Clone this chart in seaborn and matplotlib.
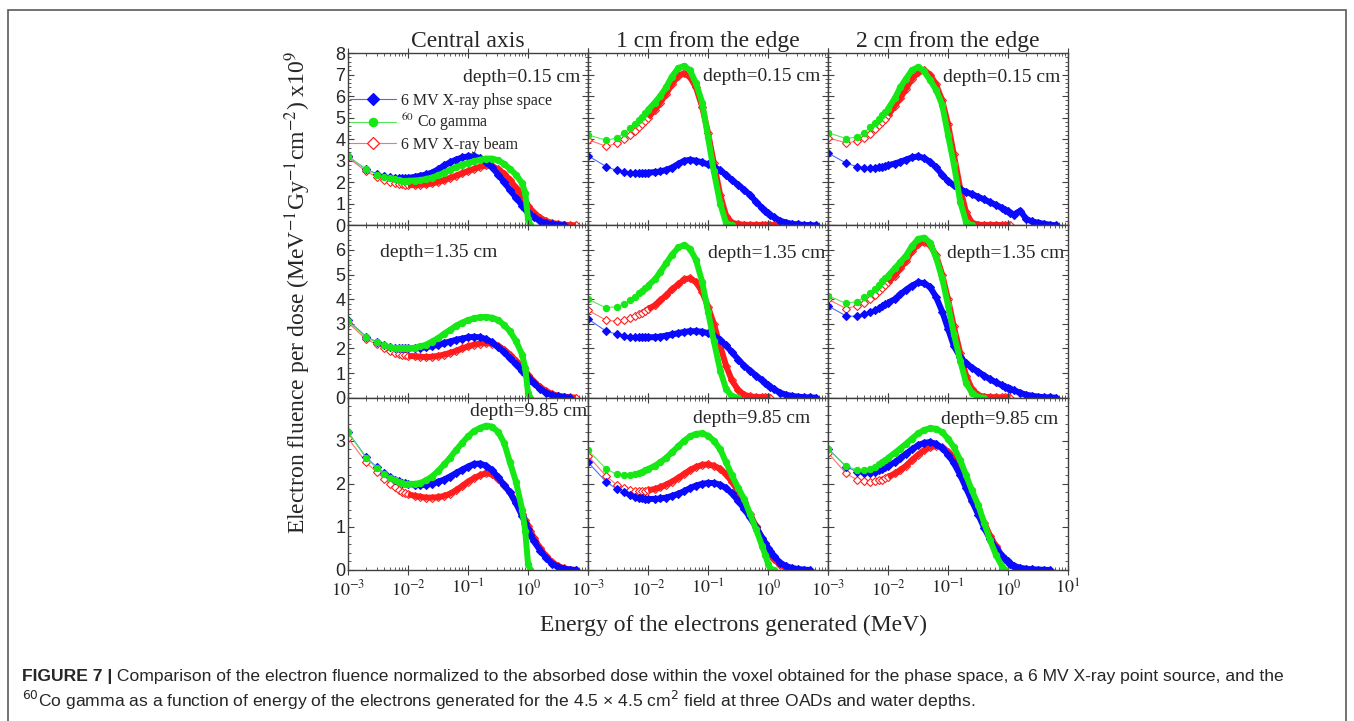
import pandas as pd
import matplotlib.pyplot as plt
import seaborn as sns
from matplotlib.lines import Line2D
from matplotlib.patches import Rectangle
from matplotlib.ticker import LogLocator, NullFormatter, MultipleLocator

# energy grid (MeV), shared by every curve
energy = [0.001, 0.002, 0.003, 0.004, 0.005, 0.006, 0.007, 0.008, 0.009, 0.01,
          0.013, 0.016, 0.02, 0.025, 0.032, 0.04, 0.05, 0.063, 0.08, 0.1,
          0.125, 0.16, 0.2, 0.25, 0.32, 0.4, 0.5, 0.63, 0.8, 0.9,
          1.0, 1.1, 1.25, 1.6, 2.0, 2.5, 3.2, 4.0, 5.0, 6.3]

# central axis, depth 0.15 cm
ca_d015_phsp = [3.20, 2.60, 2.40, 2.30, 2.25, 2.22, 2.20, 2.20, 2.20, 2.20,
                2.25, 2.30, 2.36, 2.45, 2.60, 2.78, 2.92, 3.05, 3.15, 3.20,
                3.20, 3.12, 2.95, 2.70, 2.35, 2.00, 1.65, 1.28, 0.92, 0.76,
                0.62, 0.50, 0.38, 0.20, 0.10, 0.05, 0.02, 0.00, None, None]
ca_d015_co60 = [3.20, 2.60, 2.35, 2.25, 2.18, 2.13, 2.10, 2.08, 2.07, 2.07,
                2.08, 2.10, 2.15, 2.22, 2.32, 2.45, 2.57, 2.70, 2.82, 2.90,
                2.97, 3.05, 3.10, 3.10, 3.02, 2.85, 2.62, 2.35, 1.95, 1.50,
                0.30, 0.00, None, None, None, None, None, None, None, None]
ca_d015_beam = [3.15, 2.50, 2.25, 2.10, 2.02, 1.97, 1.93, 1.90, 1.88, 1.87,
                1.87, 1.88, 1.90, 1.95, 2.02, 2.10, 2.20, 2.30, 2.42, 2.52,
                2.62, 2.72, 2.78, 2.75, 2.60, 2.40, 2.10, 1.75, 1.35, 1.10,
                0.90, 0.75, 0.58, 0.35, 0.20, 0.12, 0.06, 0.03, 0.01, 0.00]

# 1 cm from the edge, depth 0.15 cm
e1_d015_phsp = [3.23, 2.73, 2.55, 2.47, 2.43, 2.42, 2.42, 2.43, 2.44, 2.45,
                2.47, 2.50, 2.57, 2.68, 2.85, 3.00, 3.04, 3.00, 2.92, 2.83,
                2.72, 2.55, 2.35, 2.10, 1.88, 1.65, 1.42, 1.10, 0.80, 0.68,
                0.58, 0.48, 0.38, 0.21, 0.13, 0.07, 0.04, 0.02, 0.01, 0.00]
e1_d015_co60 = [4.20, 3.95, 4.05, 4.30, 4.50, 4.70, 4.90, 5.05, 5.20, 5.35,
                5.70, 6.00, 6.40, 6.90, 7.30, 7.40, 7.20, 6.60, 5.70, 4.10,
                2.50, 1.00, 0.10, 0.00, None, None, None, None, None, None,
                None, None, None, None, None, None, None, None, None, None]
e1_d015_beam = [3.98, 3.67, 3.80, 4.00, 4.20, 4.40, 4.55, 4.70, 4.85, 5.00,
                5.35, 5.70, 6.10, 6.55, 6.95, 7.05, 6.90, 6.40, 5.50, 4.30,
                2.90, 1.40, 0.45, 0.12, 0.05, 0.03, 0.02, 0.02, 0.02, 0.02,
                0.01, 0.01, 0.01, 0.00, None, None, None, None, None, None]

# 2 cm from the edge, depth 0.15 cm
e2_d015_phsp = [3.36, 2.89, 2.73, 2.68, 2.67, 2.68, 2.70, 2.73, 2.76, 2.78,
                2.87, 2.95, 3.05, 3.15, 3.20, 3.12, 2.95, 2.70, 2.35, 2.05,
                1.85, 1.68, 1.55, 1.45, 1.32, 1.20, 1.07, 0.95, 0.80, 0.72,
                0.65, 0.58, 0.50, 0.68, 0.30, 0.18, 0.12, 0.07, 0.03, 0.00]
e2_d015_co60 = [4.30, 4.03, 4.10, 4.30, 4.55, 4.75, 4.95, 5.10, 5.25, 5.40,
                5.90, 6.40, 6.80, 7.20, 7.35, 7.15, 6.75, 6.30, 5.60, 4.20,
                2.85, 1.10, 0.15, 0.00, None, None, None, None, None, None,
                None, None, None, None, None, None, None, None, None, None]
e2_d015_beam = [4.06, 3.83, 3.90, 4.05, 4.25, 4.45, 4.65, 4.80, 4.95, 5.10,
                5.55, 5.90, 6.35, 6.80, 7.10, 7.20, 7.00, 6.55, 5.80, 4.70,
                3.30, 1.70, 0.60, 0.12, 0.03, 0.02, 0.02, 0.02, 0.01, 0.01,
                0.01, 0.00, None, None, None, None, None, None, None, None]

# central axis, depth 1.35 cm
ca_d135_phsp = [3.15, 2.48, 2.27, 2.13, 2.05, 2.02, 2.00, 2.00, 2.00, 2.00,
                2.01, 2.02, 2.05, 2.10, 2.15, 2.22, 2.28, 2.35, 2.40, 2.45,
                2.47, 2.45, 2.38, 2.25, 2.05, 1.85, 1.60, 1.35, 1.08, 0.95,
                0.83, 0.72, 0.58, 0.35, 0.20, 0.10, 0.05, 0.02, 0.00, None]
ca_d135_co60 = [3.10, 2.45, 2.25, 2.12, 2.05, 2.02, 2.00, 2.00, 2.00, 2.00,
                2.03, 2.08, 2.15, 2.28, 2.42, 2.60, 2.75, 2.92, 3.05, 3.15,
                3.22, 3.27, 3.28, 3.25, 3.15, 2.95, 2.70, 2.30, 1.75, 1.20,
                0.20, 0.00, None, None, None, None, None, None, None, None]
ca_d135_beam = [3.05, 2.37, 2.17, 2.00, 1.90, 1.83, 1.78, 1.75, 1.72, 1.70,
                1.68, 1.66, 1.65, 1.66, 1.70, 1.75, 1.82, 1.90, 2.00, 2.08,
                2.15, 2.20, 2.22, 2.20, 2.10, 1.95, 1.75, 1.50, 1.20, 1.05,
                0.92, 0.80, 0.65, 0.42, 0.27, 0.15, 0.08, 0.04, 0.02, 0.00]

# 1 cm from the edge, depth 1.35 cm
e1_d135_phsp = [3.20, 2.70, 2.58, 2.52, 2.48, 2.46, 2.45, 2.45, 2.45, 2.45,
                2.46, 2.48, 2.52, 2.57, 2.62, 2.67, 2.70, 2.70, 2.68, 2.62,
                2.52, 2.35, 2.12, 1.85, 1.55, 1.30, 1.10, 0.90, 0.70, 0.60,
                0.52, 0.45, 0.35, 0.20, 0.12, 0.07, 0.04, 0.02, 0.01, 0.00]
e1_d135_co60 = [4.00, 3.65, 3.70, 3.80, 3.95, 4.10, 4.25, 4.35, 4.45, 4.55,
                4.80, 5.10, 5.45, 5.80, 6.10, 6.20, 6.05, 5.60, 4.70, 3.50,
                2.30, 1.10, 0.35, 0.05, 0.00, None, None, None, None, None,
                None, None, None, None, None, None, None, None, None, None]
e1_d135_beam = [3.55, 3.15, 3.10, 3.15, 3.22, 3.30, 3.38, 3.45, 3.52, 3.60,
                3.75, 3.95, 4.15, 4.40, 4.60, 4.80, 4.85, 4.70, 4.30, 3.70,
                3.00, 2.10, 1.30, 0.70, 0.30, 0.12, 0.05, 0.03, 0.02, 0.01,
                0.01, 0.00, None, None, None, None, None, None, None, None]

# 2 cm from the edge, depth 1.35 cm
e2_d135_phsp = [3.73, 3.32, 3.30, 3.38, 3.48, 3.57, 3.65, 3.72, 3.80, 3.86,
                4.00, 4.20, 4.38, 4.55, 4.68, 4.65, 4.50, 4.10, 3.50, 2.80,
                2.10, 1.65, 1.40, 1.22, 1.05, 0.90, 0.75, 0.62, 0.50, 0.44,
                0.40, 0.36, 0.30, 0.20, 0.12, 0.08, 0.04, 0.02, 0.01, 0.00]
e2_d135_co60 = [4.14, 3.83, 3.90, 4.07, 4.25, 4.42, 4.58, 4.72, 4.85, 4.95,
                5.25, 5.50, 5.77, 6.15, 6.45, 6.50, 6.30, 5.70, 4.85, 3.75,
                2.60, 1.50, 0.60, 0.20, 0.02, 0.00, None, None, None, None,
                None, None, None, None, None, None, None, None, None, None]
e2_d135_beam = [4.00, 3.62, 3.73, 3.85, 4.02, 4.18, 4.32, 4.45, 4.57, 4.68,
                4.95, 5.25, 5.55, 5.95, 6.25, 6.33, 6.20, 5.80, 5.00, 4.00,
                2.90, 1.80, 0.90, 0.35, 0.10, 0.04, 0.02, 0.02, 0.01, 0.01,
                0.01, 0.00, None, None, None, None, None, None, None, None]

# central axis, depth 9.85 cm
ca_d985_phsp = [3.20, 2.62, 2.39, 2.25, 2.16, 2.10, 2.06, 2.03, 2.01, 2.00,
                1.98, 1.97, 1.98, 2.00, 2.05, 2.10, 2.17, 2.25, 2.33, 2.40,
                2.46, 2.47, 2.42, 2.32, 2.15, 1.97, 1.80, 1.55, 1.25, 1.10,
                0.95, 0.82, 0.67, 0.45, 0.28, 0.15, 0.07, 0.03, 0.01, 0.00]
ca_d985_co60 = [3.20, 2.60, 2.37, 2.23, 2.14, 2.08, 2.04, 2.02, 2.00, 2.00,
                2.00, 2.02, 2.08, 2.17, 2.30, 2.45, 2.60, 2.78, 2.95, 3.10,
                3.22, 3.30, 3.35, 3.33, 3.20, 2.95, 2.50, 2.05, 1.40, 0.90,
                0.15, 0.00, None, None, None, None, None, None, None, None]
ca_d985_beam = [3.06, 2.50, 2.27, 2.12, 2.00, 1.92, 1.86, 1.82, 1.78, 1.76,
                1.72, 1.70, 1.68, 1.68, 1.69, 1.72, 1.77, 1.85, 1.95, 2.05,
                2.13, 2.20, 2.25, 2.22, 2.12, 1.97, 1.80, 1.58, 1.30, 1.16,
                1.03, 0.90, 0.75, 0.50, 0.32, 0.18, 0.09, 0.04, 0.01, 0.00]

# 1 cm from the edge, depth 9.85 cm
e1_d985_phsp = [2.50, 2.05, 1.88, 1.80, 1.74, 1.70, 1.68, 1.66, 1.65, 1.65,
                1.65, 1.66, 1.68, 1.72, 1.77, 1.83, 1.90, 1.96, 2.00, 2.02,
                2.02, 1.98, 1.90, 1.78, 1.60, 1.42, 1.22, 1.00, 0.75, 0.63,
                0.52, 0.43, 0.32, 0.17, 0.09, 0.05, 0.02, 0.01, 0.00, None]
e1_d985_co60 = [2.78, 2.35, 2.22, 2.20, 2.20, 2.22, 2.25, 2.28, 2.31, 2.34,
                2.42, 2.50, 2.60, 2.73, 2.87, 3.00, 3.10, 3.16, 3.17, 3.12,
                3.00, 2.80, 2.50, 2.20, 1.90, 1.65, 1.30, 0.95, 0.55, 0.35,
                0.15, 0.03, 0.00, None, None, None, None, None, None, None]
e1_d985_beam = [2.65, 2.18, 1.98, 1.90, 1.86, 1.84, 1.83, 1.83, 1.84, 1.85,
                1.88, 1.92, 1.98, 2.05, 2.14, 2.23, 2.32, 2.39, 2.44, 2.45,
                2.42, 2.35, 2.22, 2.05, 1.82, 1.58, 1.30, 1.02, 0.72, 0.58,
                0.46, 0.36, 0.25, 0.12, 0.05, 0.02, 0.00, None, None, None]

# 2 cm from the edge, depth 9.85 cm
e2_d985_phsp = [2.82, 2.40, 2.28, 2.25, 2.26, 2.28, 2.31, 2.35, 2.38, 2.42,
                2.50, 2.60, 2.70, 2.80, 2.90, 2.95, 2.97, 2.93, 2.83, 2.68,
                2.48, 2.20, 1.90, 1.60, 1.28, 0.98, 0.72, 0.50, 0.32, 0.25,
                0.20, 0.15, 0.10, 0.05, 0.03, 0.015, 0.01, 0.005, 0.00, None]
e2_d985_co60 = [2.80, 2.42, 2.32, 2.32, 2.35, 2.40, 2.45, 2.50, 2.55, 2.60,
                2.72, 2.82, 2.93, 3.05, 3.17, 3.25, 3.29, 3.28, 3.20, 3.05,
                2.85, 2.55, 2.20, 1.85, 1.50, 1.10, 0.70, 0.35, 0.08, 0.00,
                None, None, None, None, None, None, None, None, None, None]
e2_d985_beam = [2.72, 2.24, 2.10, 2.06, 2.05, 2.06, 2.08, 2.10, 2.13, 2.16,
                2.24, 2.32, 2.42, 2.55, 2.68, 2.78, 2.85, 2.88, 2.85, 2.75,
                2.60, 2.35, 2.05, 1.75, 1.42, 1.10, 0.80, 0.55, 0.33, 0.25,
                0.18, 0.13, 0.08, 0.03, 0.01, 0.00, None, None, None, None]

col_titles = ["Central axis", "1 cm from the edge", "2 cm from the edge"]
depth_labels = ["depth=0.15 cm", "depth=1.35 cm", "depth=9.85 cm"]
sources = ["phsp", "co60", "beam"]
legend_labels = ["6 MV X-ray phse space", "$^{60}$ Co gamma", "6 MV X-ray beam"]
panels = {
    (0, 0): (ca_d015_phsp, ca_d015_co60, ca_d015_beam),
    (0, 1): (e1_d015_phsp, e1_d015_co60, e1_d015_beam),
    (0, 2): (e2_d015_phsp, e2_d015_co60, e2_d015_beam),
    (1, 0): (ca_d135_phsp, ca_d135_co60, ca_d135_beam),
    (1, 1): (e1_d135_phsp, e1_d135_co60, e1_d135_beam),
    (1, 2): (e2_d135_phsp, e2_d135_co60, e2_d135_beam),
    (2, 0): (ca_d985_phsp, ca_d985_co60, ca_d985_beam),
    (2, 1): (e1_d985_phsp, e1_d985_co60, e1_d985_beam),
    (2, 2): (e2_d985_phsp, e2_d985_co60, e2_d985_beam),
}

records = []
for (r, c), series in panels.items():
    for src, vals in zip(sources, series):
        assert len(vals) == len(energy)
        for e, v in zip(energy, vals):
            records.append({"row": r, "col": c, "source": src, "energy": e, "value": v})
df = pd.DataFrame(records).dropna()

styles = {
    "phsp": dict(thin="#4a6bff", band="#0a0aff", marker="D", mfc="#0a0aff", mec="#0a0aff"),
    "co60": dict(thin="#55e855", band="#16e816", marker="o", mfc="#16e816", mec="#16e816"),
    "beam": dict(thin="#ff7070", band="#ff1c1c", marker="D", mfc="white", mec="#ff2020"),
}

sns.set_style("ticks")
plt.rcParams["font.family"] = ["Liberation Serif", "DejaVu Serif"]
plt.rcParams["mathtext.fontset"] = "stix"

fig, axes = plt.subplots(3, 3, figsize=(13.54, 7.21), dpi=100, sharey="row",
                         gridspec_kw=dict(wspace=0, hspace=0))
fig.subplots_adjust(left=348 / 1354, right=1068 / 1354, top=1 - 53 / 721, bottom=1 - 570 / 721)

row_top = [8, 7, 4]
row_ticks = [range(0, 9), range(0, 7), range(0, 4)]
spine_col = "#404040"

for (r, c), _ in panels.items():
    ax = axes[r, c]
    for src in ["beam", "phsp", "co60"]:
        st = styles[src]
        sub = df[(df["row"] == r) & (df["col"] == c) & (df["source"] == src)]
        sns.lineplot(data=sub, x="energy", y="value", ax=ax, estimator=None, sort=True,
                     color=st["thin"], lw=0.8, marker=st["marker"], markersize=4.5,
                     markerfacecolor=st["mfc"], markeredgecolor=st["mec"],
                     markeredgewidth=0.8, legend=False)
        band = sub[sub["energy"] >= 0.01]
        sns.lineplot(data=band, x="energy", y="value", ax=ax, estimator=None, sort=True,
                     color=st["band"], lw=4.3, legend=False, solid_capstyle="butt")

    ax.set_xscale("log")
    ax.set_xlim(1e-3, 1e1)
    ax.set_ylim(0, row_top[r])
    ax.set_xlabel("")
    ax.set_ylabel("")
    ax.set_xticks([1e-3, 1e-2, 1e-1, 1e0, 1e1])
    ax.xaxis.set_minor_locator(LogLocator(base=10, subs=range(2, 10), numticks=20))
    ax.xaxis.set_minor_formatter(NullFormatter())
    if r == 2:
        last = "$10^{1}$" if c == 2 else ""
        ax.set_xticklabels(["$10^{-3}$", "$10^{-2}$", "$10^{-1}$", "$10^{0}$", last], fontsize=13)
    else:
        ax.tick_params(axis="x", labelbottom=False)
    ax.tick_params(which="both", direction="in", top=True, right=True, color=spine_col)
    ax.tick_params(axis="x", which="major", direction="inout", length=7, pad=3)
    ax.tick_params(axis="y", which="major", length=4, pad=2)
    ax.tick_params(which="minor", length=2.5)
    for sp in ax.spines.values():
        sp.set_color(spine_col)
        sp.set_linewidth(1.0)

for r in range(3):
    axes[r, 0].set_yticks(list(row_ticks[r]))
    axes[r, 0].yaxis.set_minor_locator(MultipleLocator(0.2))
    for lab in axes[r, 0].get_yticklabels():
        lab.set_fontfamily(["Liberation Sans", "DejaVu Sans"])
        lab.set_fontsize(13)

for c in range(3):
    axes[0, c].set_title(col_titles[c], fontsize=17, pad=4)

# depth annotations (axes fraction positions)
depth_pos = {
    (0, 0): (0.967, 0.855, "right"), (0, 1): (0.967, 0.865, "right"), (0, 2): (0.967, 0.855, "right"),
    (1, 0): (0.133, 0.843, "left"), (1, 1): (0.99, 0.837, "right"), (1, 2): (0.985, 0.837, "right"),
    (2, 0): (0.996, 0.92, "right"), (2, 1): (0.925, 0.88, "right"), (2, 2): (0.958, 0.875, "right"),
}
for (r, c), (x, y, ha) in depth_pos.items():
    axes[r, c].text(x, y, depth_labels[r], transform=axes[r, c].transAxes,
                    ha=ha, va="center", fontsize=14)

handles = []
for src in sources:
    st = styles[src]
    handles.append(Line2D([], [], color=st["thin"], lw=0.8, marker=st["marker"], markersize=6,
                          markerfacecolor=st["mfc"], markeredgecolor=st["mec"], markeredgewidth=0.9))
axes[0, 0].legend(handles, legend_labels, loc="upper left", bbox_to_anchor=(0.008, 0.77),
                  frameon=False, fontsize=11.5, handlelength=2.9, handletextpad=0.3,
                  labelspacing=0.2, borderpad=0, borderaxespad=0)

fig.text(298 / 1354, 1 - 292 / 721,
         "Electron fluence per dose (MeV$^{-1}$Gy$^{-1}$cm$^{-2}$) x10$^{9}$",
         rotation=90, ha="center", va="center", fontsize=17)
fig.text(733 / 1354, 1 - 625 / 721, "Energy of the electrons generated (MeV)",
         ha="center", va="center", fontsize=17)

# caption
cap_font = ["Liberation Sans Narrow", "Liberation Sans", "DejaVu Sans"]
t1 = fig.text(22 / 1354, 1 - 676 / 721, "FIGURE 7 |", fontweight="bold", family=cap_font,
              fontsize=12.6, va="center", ha="left")
axes[2, 0].annotate(" Comparison of the electron fluence normalized to the absorbed dose within the voxel "
                    "obtained for the phase space, a 6 MV X-ray point source, and the",
                    xy=(1, 0.5), xycoords=t1, va="center", ha="left", family=cap_font,
                    fontsize=12.6, annotation_clip=False, math_fontfamily="dejavusans")
fig.text(22 / 1354, 1 - 700 / 721,
         "$^{60}$Co gamma as a function of energy of the electrons generated for the "
         "4.5 \u00d7 4.5 cm$^{2}$ field at three OADs and water depths.",
         family=cap_font, fontsize=12.6, va="center", ha="left", math_fontfamily="dejavusans")

fig.add_artist(Rectangle((8 / 1354, -0.05), (1346 - 8) / 1354, 1.05 - 10 / 721,
                         transform=fig.transFigure, fill=False, ec="#5a5a5a", lw=1.2))

plt.savefig("out.png", dpi=100)
